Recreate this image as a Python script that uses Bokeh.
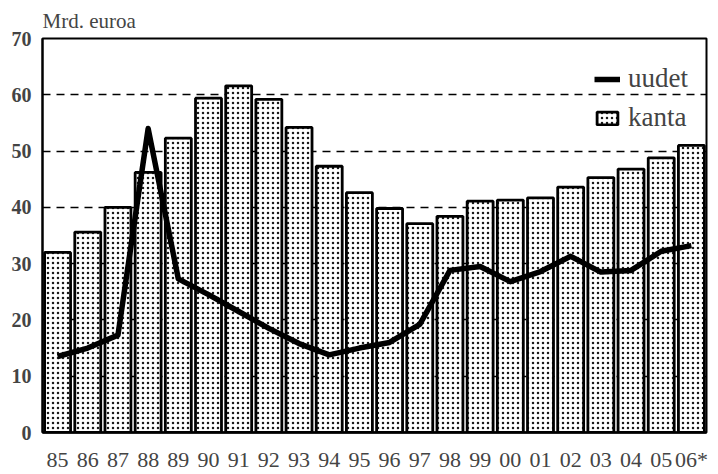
from bokeh.plotting import figure
from bokeh.models import FactorRange, FixedTicker, Legend, LegendItem, ColumnDataSource
from bokeh.embed import file_html
from bokeh.resources import INLINE

years = ["85", "86", "87", "88", "89", "90", "91", "92", "93", "94", "95",
         "96", "97", "98", "99", "00", "01", "02", "03", "04", "05", "06*"]
kanta = [32.0, 35.6, 40.0, 46.2, 52.3, 59.4, 61.6, 59.2, 54.2, 47.3, 42.6,
         39.8, 37.1, 38.4, 41.1, 41.3, 41.7, 43.6, 45.3, 46.8, 48.8, 51.0]
uudet = [13.5, 15.0, 17.3, 54.0, 27.3, 24.5, 21.5, 18.5, 15.8, 13.8, 15.0,
         16.0, 19.2, 28.8, 29.5, 26.8, 28.6, 31.3, 28.5, 28.8, 32.2, 33.2]
y_ticks = [0, 10, 20, 30, 40, 50, 60, 70]

SERIF = "Liberation Serif"

src = ColumnDataSource(dict(year=years, kanta=kanta, uudet=uudet))

p = figure(x_range=FactorRange(*years, range_padding=0), y_range=(0, 70),
           width=718, height=474, output_backend="svg", toolbar_location=None,
           min_border_left=42, min_border_right=12, min_border_top=38,
           min_border_bottom=37, title="Mrd. euroa")

p.title.text_font = SERIF
p.title.text_font_size = "21px"
p.title.text_font_style = "normal"
p.title.standoff = 11
p.title.offset = 0

p.outline_line_color = "black"
p.outline_line_width = 2
p.outline_line_alpha = 1

p.xgrid.visible = False
p.ygrid.ticker = FixedTicker(ticks=y_ticks[1:-1])
p.ygrid.grid_line_color = "black"
p.ygrid.grid_line_dash = "8 6"
p.ygrid.grid_line_width = 1.5
p.ygrid.level = "underlay"

bars = p.vbar(x="year", top="kanta", width=0.86, source=src,
              fill_color="white", line_color="black", line_width=2.8,
              hatch_pattern="dot", hatch_color="black", hatch_scale=5,
              hatch_weight=1.4, hatch_alpha=0.9)
line = p.line(x="year", y="uudet", source=src, line_color="black",
              line_width=5.5, line_join="round")

p.yaxis.ticker = FixedTicker(ticks=y_ticks)
p.yaxis.major_label_text_font = SERIF
p.yaxis.major_label_text_font_size = "20px"
p.yaxis.major_label_text_font_style = "bold"
p.yaxis.major_label_standoff = 11
p.yaxis.major_tick_out = 0
p.yaxis.major_tick_in = 0
p.yaxis.minor_tick_out = 0
p.yaxis.minor_tick_in = 0
p.yaxis.axis_line_width = 2

p.xaxis.major_label_text_font = SERIF
p.xaxis.major_label_text_font_size = "22px"
p.xaxis.major_label_standoff = 14
p.xaxis.major_tick_out = 0
p.xaxis.major_tick_in = 0
p.xaxis.axis_line_width = 2.5

legend = Legend(items=[LegendItem(label="uudet", renderers=[line]),
                       LegendItem(label="kanta", renderers=[bars])],
                location=(552, 299), padding=0, spacing=8, margin=0,
                label_text_font=SERIF, label_text_font_size="27px",
                glyph_width=26, glyph_height=16, label_height=30,
                label_standoff=8,
                border_line_color=None, background_fill_alpha=0)
p.add_layout(legend)

open("out.html", "w").write(file_html(p, INLINE))
